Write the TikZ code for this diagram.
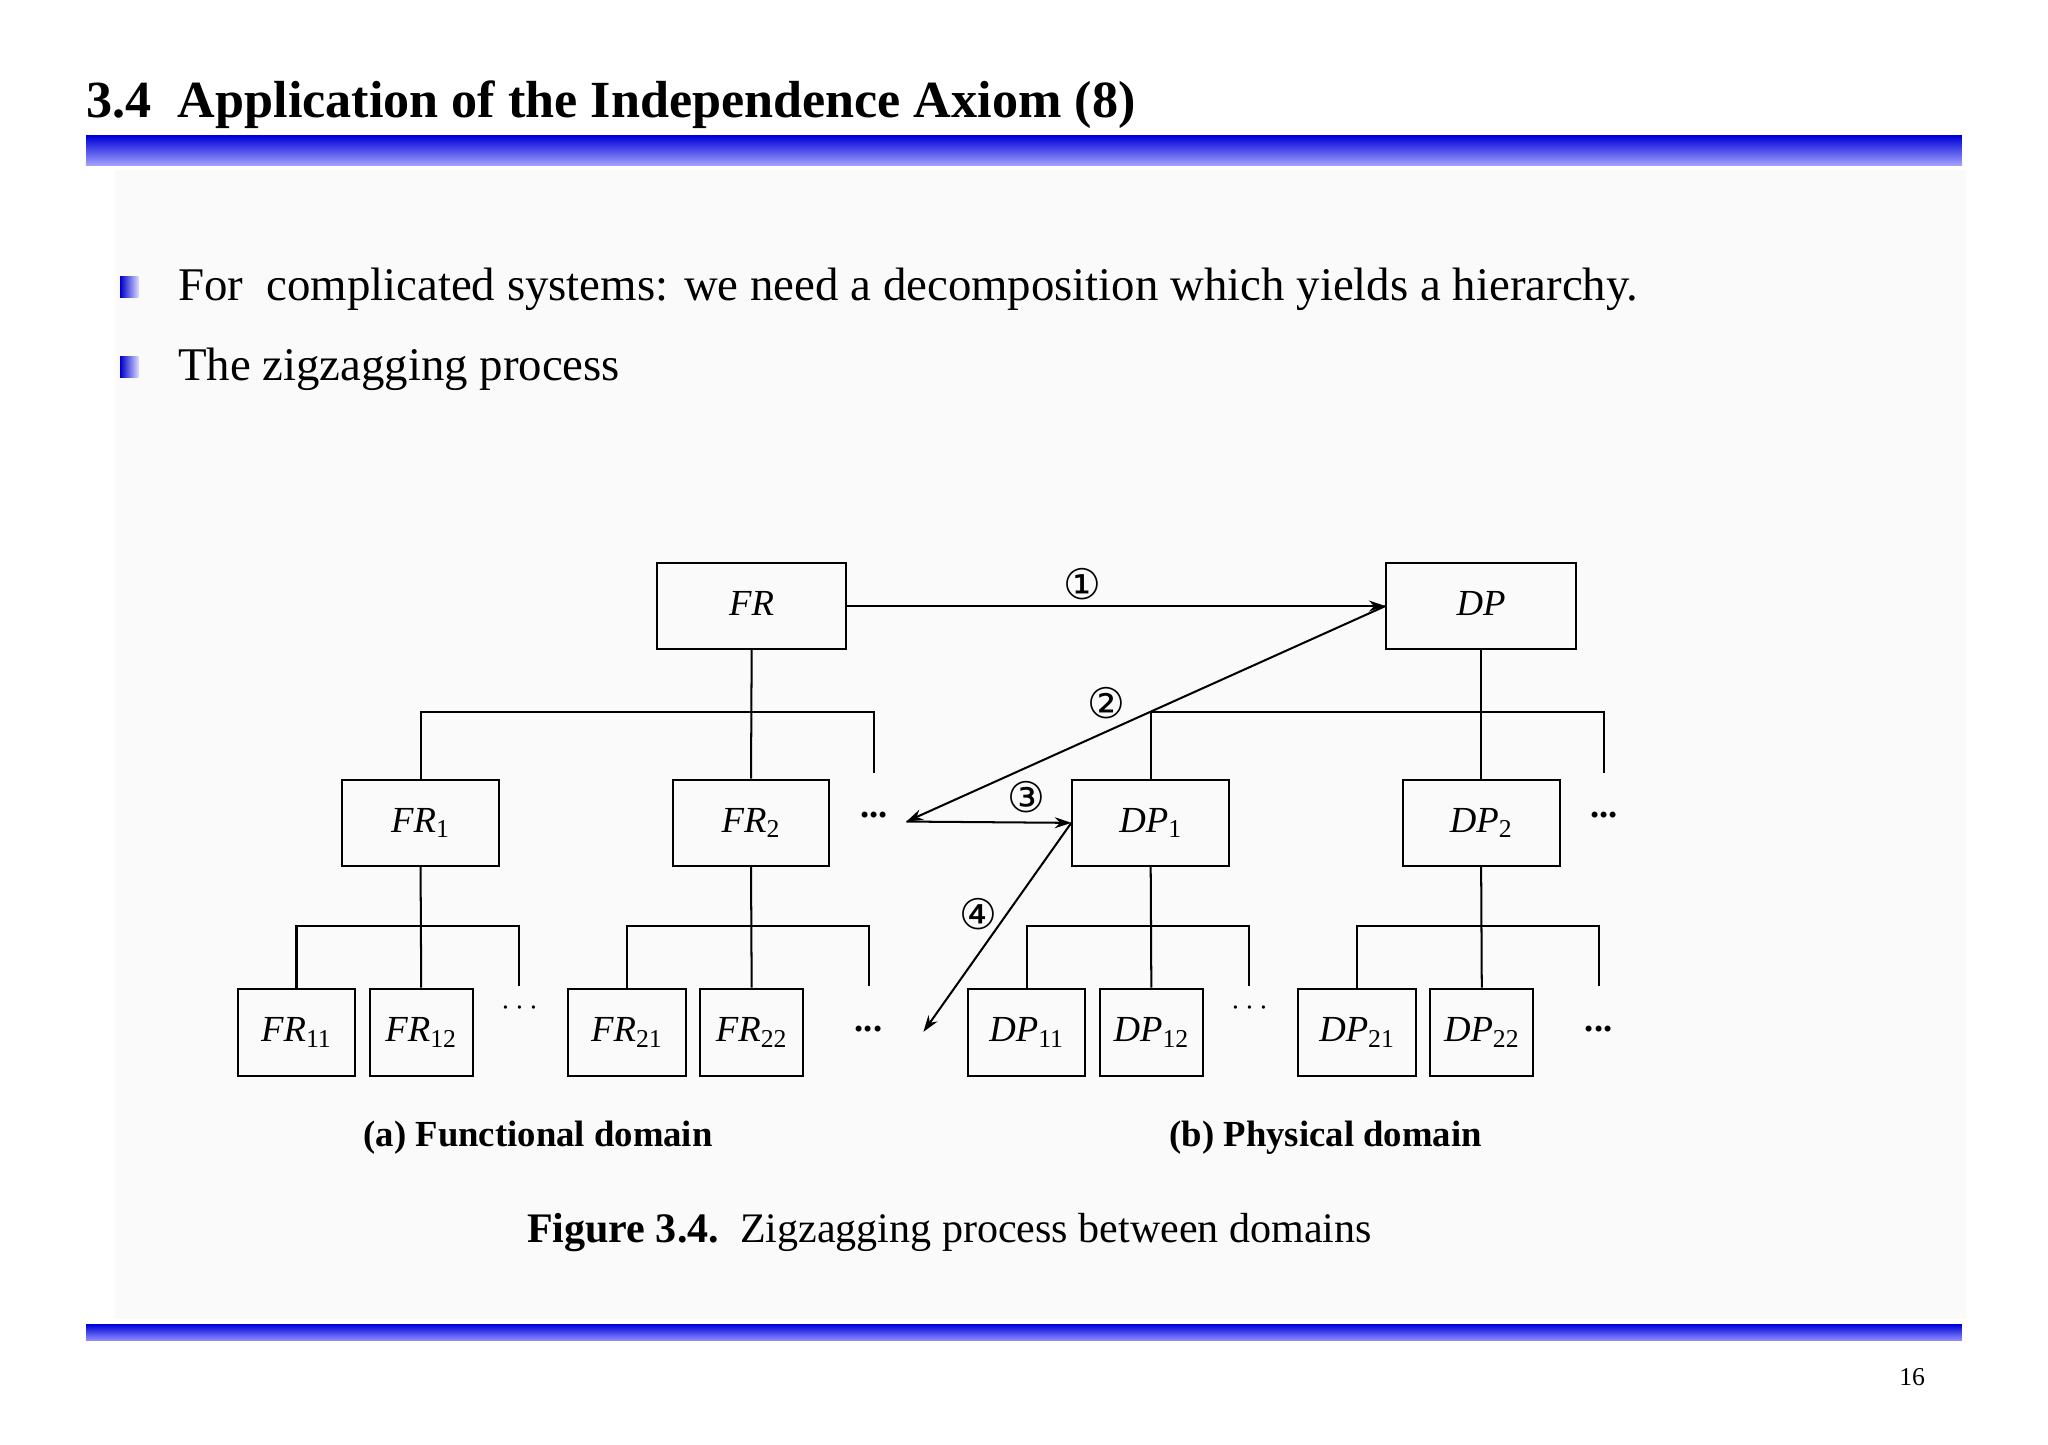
\documentclass[tikz,border=0pt]{standalone}
\usepackage{fontspec}
\setmainfont{Liberation Serif}
\newfontfamily\cnumf{DejaVu Sans}
\usetikzlibrary{arrows.meta}
\begin{document}
\begin{tikzpicture}[x=0.025cm,y=-0.025cm,
  box/.style={draw,line width=1.1pt,inner sep=0pt,font=\fontsize{20}{24}\selectfont\itshape},
  big/.style={box,minimum width=3.625cm,minimum height=1.65cm},
  mid/.style={box,minimum width=3cm,minimum height=1.65cm},
  sm/.style={box,minimum width=2.25cm,minimum height=1.68cm},
  smm/.style={box,minimum width=1.975cm,minimum height=1.68cm},
  ln/.style={line width=1.1pt},
  arr/.style={line width=1.1pt,-{Stealth[length=9pt,width=6pt]}},
  cn/.style={font=\cnumf\fontsize{23}{26}\selectfont},
  dt/.style={font=\fontsize{20}{24}\selectfont\bfseries}]
\newcommand{\sbx}[1]{\textsubscript{\upshape\fontsize{14}{14}\selectfont #1}}
\newcommand{\lift}[1]{\raisebox{3pt}{#1}}
\useasboundingbox (0,0) rectangle (1568,1106);
\fill[white] (0,0) rectangle (1568,1106);
\fill[black!2] (88,130) rectangle (1505,1010);
\node[anchor=base west,inner sep=0pt,font=\fontsize{28.4}{32}\selectfont\bfseries] (title) at (66,90) {3.4\ \ Application of the Independence Axiom (8)};
\shade[top color=blue!85!black,bottom color=blue!35!white] (66,104) rectangle (1502,127);
\shade[top color=blue!85!black,bottom color=blue!45!white] (66,1014) rectangle (1502,1026);
\shade[left color=blue!80!black,right color=blue!15!white] (92,212) rectangle (106,228);
\shade[left color=blue!80!black,right color=blue!15!white] (92,273) rectangle (106,289);
\node[anchor=base west,inner sep=0pt,font=\fontsize{25.5}{28}\selectfont] (b1) at (136,230) {For\ \ complicated systems: we need a decomposition which yields a hierarchy.};
\node[anchor=base west,inner sep=0pt,font=\fontsize{25.5}{28}\selectfont] (b2) at (136,291) {The zigzagging process};

\node[big] (FR) at (575.5,464) {\lift{FR}};
\node[big] (DP) at (1134,464) {\lift{DP}};
\node[mid] (FR1) at (322,630) {\lift{FR\sbx{1}}};
\node[mid] (FR2) at (575,630) {\lift{FR\sbx{2}}};
\node[mid] (DP1) at (881,630) {\lift{DP\sbx{1}}};
\node[mid] (DP2) at (1134,630) {\lift{DP\sbx{2}}};
\node[sm] (FR11) at (227,790.5) {\lift{FR\sbx{11}}};
\node[smm] (FR12) at (322.5,790.5) {\lift{FR\sbx{12}}};
\node[sm] (FR21) at (480,790.5) {\lift{FR\sbx{21}}};
\node[smm] (FR22) at (575.5,790.5) {\lift{FR\sbx{22}}};
\node[sm] (DP11) at (786,790.5) {\lift{DP\sbx{11}}};
\node[smm] (DP12) at (881.5,790.5) {\lift{DP\sbx{12}}};
\node[sm] (DP21) at (1039,790.5) {\lift{DP\sbx{21}}};
\node[smm] (DP22) at (1134.5,790.5) {\lift{DP\sbx{22}}};

\coordinate (e0) at (669,592);
\coordinate (e1) at (1228,592);
\coordinate (e2) at (397,755);
\coordinate (e3) at (665,755);
\coordinate (e4) at (956,755);
\coordinate (e5) at (1224,755);
\draw[ln] (FR.south) -- (FR2.north);
\draw[ln] (FR1.north) -- ++(0,-51) -| (e0);
\draw[ln] (DP.south) -- (DP2.north);
\draw[ln] (DP1.north) -- ++(0,-51) -| (e1);
\draw[ln] (FR1.south) -- (FR12.north);
\draw[ln] (FR11.north) -- ++(0,-47) -| (e2);
\draw[ln] (FR2.south) -- (FR22.north);
\draw[ln] (FR21.north) -- ++(0,-47) -| (e3);
\draw[ln] (DP1.south) -- (DP12.north);
\draw[ln] (DP11.north) -- ++(0,-47) -| (e4);
\draw[ln] (DP2.south) -- (DP22.north);
\draw[ln] (DP21.north) -- ++(0,-47) -| (e5);

\node[dt] (d1) at (669,624) {...};
\node[dt] (d2) at (1228,624) {...};
\node[font=\fontsize{18}{20}\selectfont\bfseries] (d3) at (398,772) {$\cdots$};
\node[font=\fontsize{18}{20}\selectfont\bfseries] (d4) at (957,772) {$\cdots$};
\node[dt] (d5) at (665,788) {...};
\node[dt] (d6) at (1224,788) {...};

\coordinate (z2) at (694,629);
\coordinate (z4) at (707,790);
\draw[arr] (FR.east) -- (DP.west);
\draw[arr] (DP.west) -- (z2);
\draw[arr] (z2) -- (DP1.west);
\draw[arr] (DP1.west) -- (z4);
\node[cn] (c1) at (829,447) {①};
\node[cn] (c2) at (847,538) {②};
\node[cn] (c3) at (786,610) {③};
\node[cn] (c4) at (749,700) {④};

\node[font=\fontsize{20}{22}\selectfont\bfseries] (ca) at (412,871) {(a) Functional domain};
\node[font=\fontsize{20}{22}\selectfont\bfseries] (cb) at (1015,871) {(b) Physical domain};
\node[font=\fontsize{22.9}{26}\selectfont] (fig) at (727,944) {\textbf{Figure 3.4.}\ \ Zigzagging process between domains};
\node[font=\fontsize{14}{16}\selectfont] (pg) at (1464,1054) {16};
\end{tikzpicture}
\end{document}
